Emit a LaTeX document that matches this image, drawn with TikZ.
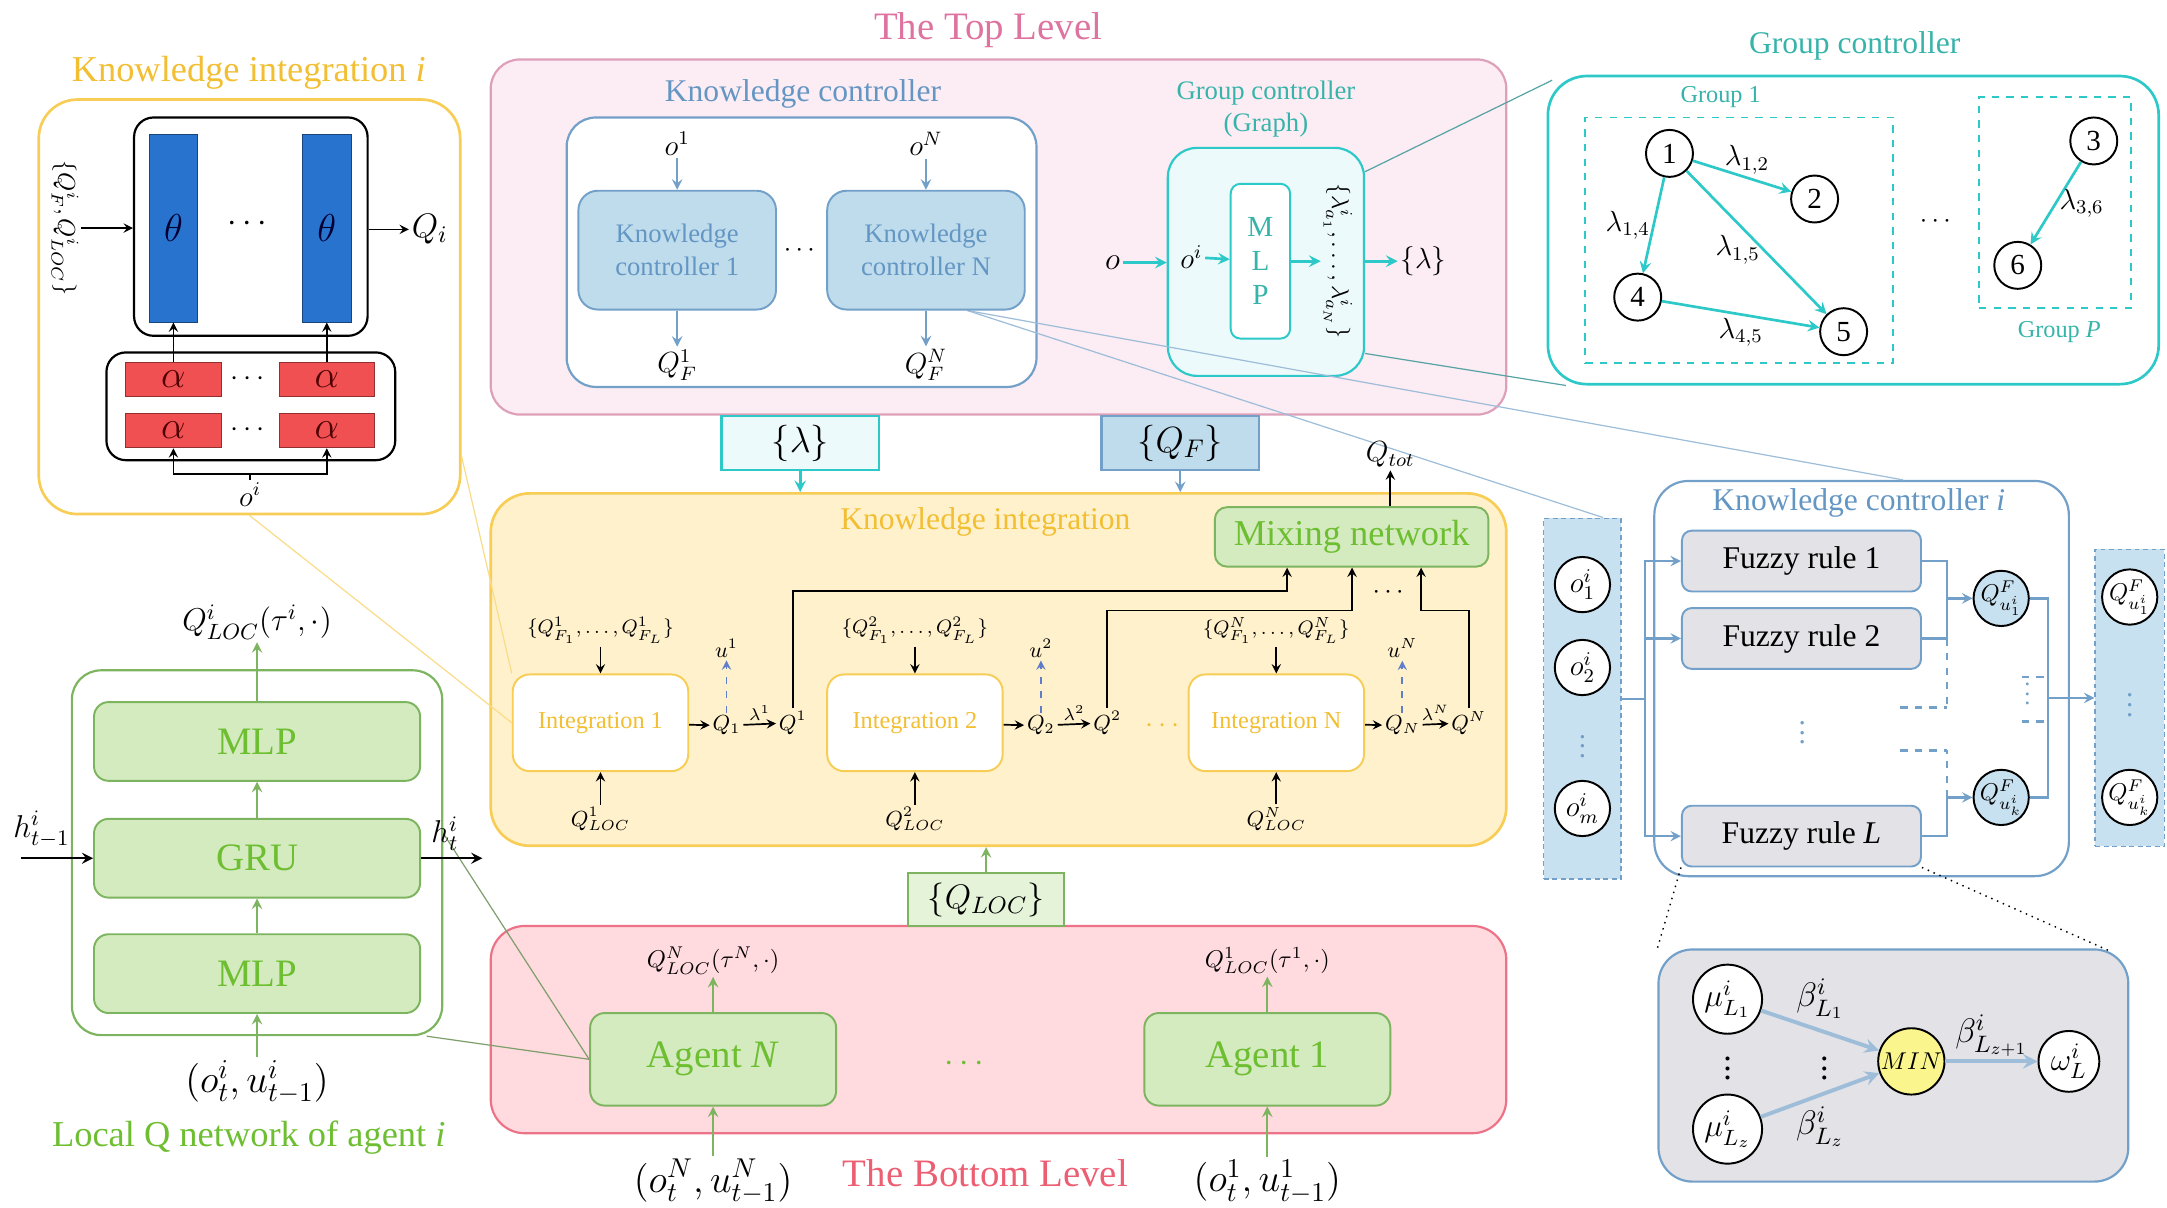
\RequirePackage{fix-cm}
\documentclass[tikz,border=0pt]{standalone}
\usepackage{fontspec}
\setmainfont{Liberation Serif}
\usepackage{amsmath, amssymb}
\usetikzlibrary{shapes, arrows, positioning, calc, fit}
\pgfdeclarelayer{back}
\pgfdeclarelayer{links}
\pgfsetlayers{back,links,main}
\definecolor{top-fill}{RGB}{252,236,243}
\definecolor{top-line}{RGB}{222,160,185}
\definecolor{top-text}{RGB}{222,115,160}
\definecolor{ki-fill}{RGB}{255,241,203}
\definecolor{ki-line}{RGB}{247,205,85}
\definecolor{ki-text}{RGB}{242,190,50}
\definecolor{bot-fill}{RGB}{255,218,223}
\definecolor{bot-line}{RGB}{236,115,135}
\definecolor{bot-text}{RGB}{236,95,115}
\definecolor{gr-fill}{RGB}{212,235,192}
\definecolor{gr-line}{RGB}{125,180,95}
\definecolor{gr-text}{RGB}{110,190,50}
\definecolor{kc-fill}{RGB}{190,220,236}
\definecolor{kc-line}{RGB}{115,160,200}
\definecolor{kc-text}{RGB}{100,150,195}
\definecolor{teal-line}{RGB}{45,200,200}
\definecolor{teal-text}{RGB}{55,180,170}
\definecolor{gc-fill}{RGB}{236,250,251}
\definecolor{theta-blue}{RGB}{40,115,205}
\definecolor{alpha-red}{RGB}{240,80,82}
\definecolor{fz-fill}{RGB}{226,226,231}
\definecolor{min-yellow}{RGB}{250,245,140}
\definecolor{col-fill}{RGB}{200,225,240}
\definecolor{u-blue}{RGB}{95,125,200}
\newcommand{\fsz}[1]{\fontsize{#1}{#1}\selectfont}

\begin{document}
\begin{tikzpicture}[
    x=0.02cm, y=-0.02cm,
    >=stealth,
    panel/.style={rectangle, rounded corners=10pt, line width=0.9pt, inner sep=0pt},
    kcblock/.style={rectangle, rounded corners=8pt, draw=kc-line, fill=kc-fill, text=kc-text, line width=0.8pt, align=center, font={\fontsize{11}{13.5}\selectfont}, minimum width=2.86cm, minimum height=1.72cm},
    greenblock/.style={rectangle, rounded corners=6pt, draw=gr-line, fill=gr-fill, text=gr-text, line width=0.8pt, font=\fsz{16}},
    intblock/.style={rectangle, rounded corners=7pt, draw=ki-line, fill=white, text=ki-text, line width=0.8pt, font=\fsz{10}, minimum width=2.54cm, minimum height=1.4cm},
    fuzzyblock/.style={rectangle, rounded corners=4pt, draw=kc-line, fill=fz-fill, line width=0.8pt, font=\fsz{13}, minimum width=3.46cm, minimum height=0.88cm},
    thetablock/.style={rectangle, draw=theta-blue!60!black, fill=theta-blue, text=black!80!blue, minimum width=0.7cm, minimum height=2.72cm, inner sep=0pt, font=\fsz{16}},
    alphablock/.style={rectangle, draw=alpha-red!60!black, fill=alpha-red, text=black!70!red, minimum width=1.38cm, minimum height=0.5cm, inner sep=0pt, font=\fsz{16}},
    gnode/.style={circle, draw, line width=0.8pt, fill=white, minimum size=0.68cm, inner sep=0pt, font=\fsz{12}},
    onode/.style={circle, draw, line width=0.8pt, fill=white, minimum size=0.8cm, inner sep=0pt, font=\fsz{12}},
    colbox/.style={rectangle, draw=kc-line, dash pattern=on 2pt off 1.5pt, fill=col-fill, line width=0.6pt, inner sep=0pt},
    arrow/.style={->, line width=0.7pt},
    tarrow/.style={->, line width=1.1pt, draw=teal-line},
    barrow/.style={->, line width=0.9pt, draw=kc-line},
    bline/.style={line width=0.9pt, draw=kc-line},
    garrow/.style={->, line width=0.9pt, draw=gr-line},
    uarrow/.style={->, dashed, line width=0.7pt, draw=u-blue},
    link/.style={line width=0.5pt, draw=#1},
    lbl/.style={font=\fsz{#1}, inner sep=1pt}
]
\useasboundingbox (0,0) rectangle (1568,874);

% containers
\begin{pgfonlayer}{back}
\node[panel, draw=top-line, fill=top-fill, rounded corners=12pt, minimum width=14.7cm, minimum height=5.14cm] (toplevel) at (722.5,171.5) {};
\node[panel, draw=ki-line, fill=ki-fill, rounded corners=16pt, line width=1.1pt, minimum width=14.7cm, minimum height=5.1cm] (kimid) at (722.5,484.5) {};
\node[panel, draw=bot-line, fill=bot-fill, rounded corners=14pt, minimum width=14.7cm, minimum height=3cm] (botlevel) at (722.5,745) {};
\node[panel, draw=ki-line, fill=white, rounded corners=16pt, line width=1.1pt, minimum width=6.1cm, minimum height=6cm] (kii) at (180.5,222) {};
\node[panel, draw=gr-line, fill=white, rounded corners=12pt, minimum width=5.36cm, minimum height=5.28cm] (localq) at (186,617) {};
\node[panel, draw=kc-line, fill=white, rounded corners=12pt, minimum width=6.8cm, minimum height=3.9cm] (kc) at (580,182.5) {};
\node[panel, draw=teal-line, fill=gc-fill, rounded corners=12pt, minimum width=2.84cm, minimum height=3.3cm] (gc) at (916,189.5) {};
\node[panel, draw=teal-line, fill=white, rounded corners=16pt, line width=1.1pt, minimum width=8.84cm, minimum height=4.46cm] (gcp) at (1341,166.5) {};
\node[panel, draw=kc-line, fill=white, rounded corners=14pt, minimum width=6cm, minimum height=5.72cm] (kci) at (1347,491) {};
\node[panel, draw=kc-line, fill=fz-fill, rounded corners=14pt, minimum width=6.8cm, minimum height=3.36cm] (fzd) at (1370,771) {};
\end{pgfonlayer}

% top level: knowledge controller
\node[lbl=16, text=top-text] (toptitle) at (715,22) {The Top Level};
\node[lbl=13, text=kc-text] (kctitle) at (581,68) {Knowledge controller};
\node[kcblock] (kc1) at (490,181) {Knowledge\\controller 1};
\node[kcblock] (kcN) at (670,181) {Knowledge\\controller N};
\node[lbl=11] (kcdots) at (580,181) {$\cdots$};
\node[lbl=12] (o1) at (490,104) {$o^1$};
\node[lbl=12] (oN) at (670,104) {$o^N$};
\node[lbl=12] (qf1) at (490,264) {$Q_F^1$};
\node[lbl=12] (qfN) at (670,264) {$Q_F^N$};
\draw[barrow] (o1) -- (kc1);
\draw[barrow] (oN) -- (kcN);
\draw[barrow] (kc1) -- (qf1);
\draw[barrow] (kcN) -- (qfN);

% top level: group controller (graph)
\node[text=teal-text, align=center, font={\fontsize{11}{13}\selectfont}] (gctitle) at (916,79) {Group controller\\(Graph)};
\node[rectangle, rounded corners=4pt, draw=teal-line, fill=white, line width=0.8pt, minimum width=0.86cm, minimum height=2.24cm, align=center, text=teal-text, font={\fontsize{12}{14}\selectfont}] (mlpg) at (912,189) {M\\L\\P};
\node[lbl=13] (og) at (805,190) {$o$};
\node[lbl=12] (oig) at (862,186) {$o^i$};
\node[lbl=10, rotate=-90] (lamset) at (968,189) {$\{\lambda^i_{a_1},\ldots,\lambda^i_{a_N}\}$};
\node[lbl=12] (lamout) at (1030,189) {$\{\lambda\}$};
\draw[tarrow] (og) -- (gc.west |- og);
\draw[tarrow] (oig) -- (mlpg);
\draw[tarrow] (mlpg) -- (lamset);
\draw[tarrow] (gc.east |- lamout) -- (lamout);

% group controller panel
\node[lbl=13, text=teal-text] (gcptitle) at (1342,33) {Group controller};
\node[rectangle, draw=teal-line, dashed, line width=0.8pt, minimum width=4.46cm, minimum height=3.56cm] (grp1) at (1258.5,174) {};
\node[lbl=10, text=teal-text] (grp1lbl) at (1245,70) {Group 1};
\node[rectangle, draw=teal-line, dashed, line width=0.8pt, minimum width=2.2cm, minimum height=3.06cm] (grpP) at (1487,146.5) {};
\node[lbl=10, text=teal-text] (grpPlbl) at (1490,240) {Group \textit{P}};
\node[gnode] (n1) at (1208,111) {1};
\node[gnode] (n2) at (1313,144) {2};
\node[gnode] (n3) at (1515,102) {3};
\node[gnode] (n4) at (1185,215) {4};
\node[gnode] (n5) at (1334,240) {5};
\node[gnode] (n6) at (1460,192) {6};
\node[lbl=11] (grpdots) at (1402,160) {$\cdots$};
\draw[tarrow] (n1) -- node[above, lbl=12, pos=0.55] {$\lambda_{1,2}$} (n2);
\draw[tarrow] (n1) -- node[left, lbl=12] {$\lambda_{1,4}$} (n4);
\draw[tarrow] (n1) -- node[left, lbl=12, pos=0.55] {$\lambda_{1,5}$} (n5);
\draw[tarrow] (n4) -- node[below, lbl=12] {$\lambda_{4,5}$} (n5);
\draw[tarrow] (n3) -- node[right, lbl=12] {$\lambda_{3,6}$} (n6);

% knowledge integration i
\node[lbl=15, text=ki-text] (kiititle) at (180,53) {Knowledge integration \textit{i}};
\node[rectangle, rounded corners=8pt, draw, line width=0.9pt, fill=white, minimum width=3.38cm, minimum height=3.16cm] (thetabox) at (181.5,164) {};
\node[thetablock] (th1) at (125.5,165) {$\theta$};
\node[thetablock] (th2) at (236.5,165) {$\theta$};
\node[lbl=14] (thdots) at (181,162) {$\cdots$};
\node[rectangle, rounded corners=8pt, draw, line width=0.9pt, fill=white, minimum width=4.18cm, minimum height=1.56cm] (alphabox) at (181.5,294) {};
\node[alphablock] (al11) at (125.5,274.5) {$\alpha$};
\node[alphablock] (al12) at (236.5,274.5) {$\alpha$};
\node[alphablock] (al21) at (125.5,311.5) {$\alpha$};
\node[alphablock] (al22) at (236.5,311.5) {$\alpha$};
\node[lbl=12] (aldots1) at (181,274.5) {$\cdots$};
\node[lbl=12] (aldots2) at (181,311.5) {$\cdots$};
\node[lbl=12] (oiki) at (181,358) {$o^i$};
\coordinate (oibus) at (181,343);
\draw[line width=0.7pt] (oiki) -- (oibus);
\draw[arrow] (oibus) -| (al21);
\draw[arrow] (oibus) -| (al22);
\draw[arrow] (al11) -- (th1);
\draw[arrow] (al12) -- (th2);
\node[lbl=10, rotate=-90] (qin) at (47,165) {$\{Q^i_F,Q^i_{LOC}\}$};
\draw[arrow] (qin) -- (thetabox.west |- qin);
\node[lbl=14] (qi) at (311,166) {$Q_i$};
\draw[arrow] (thetabox.east |- qi) -- (qi);

% local Q network
\node[greenblock, minimum width=4.72cm, minimum height=1.14cm] (mlptop) at (186,536.5) {MLP};
\node[greenblock, minimum width=4.72cm, minimum height=1.14cm] (gru) at (186,621) {GRU};
\node[greenblock, minimum width=4.72cm, minimum height=1.14cm] (mlpbot) at (186,704.5) {MLP};
\node[lbl=13] (qloci) at (186,450) {$Q^i_{LOC}(\tau^i,\cdot)$};
\node[lbl=16] (inpi) at (186,783) {$(o^i_t,u^i_{t-1})$};
\node[lbl=15, text=gr-text] (lqtitle) at (180,823) {Local Q network of agent \textit{i}};
\node[lbl=13] (hprev) at (30,600) {$h^i_{t-1}$};
\node[lbl=13] (hnext) at (322,603) {$h^i_t$};
\coordinate (hin) at (15,621);
\coordinate (hout) at (349,621);
\draw[arrow, line width=1pt] (hin) -- (gru);
\draw[arrow, line width=1pt] (gru) -- (hout);
\draw[garrow] (mlptop) -- (qloci);
\draw[garrow] (gru) -- (mlptop);
\draw[garrow] (mlpbot) -- (gru);
\draw[garrow] (inpi) -- (mlpbot);

% knowledge integration
\node[lbl=13, text=ki-text] (kimidtitle) at (713,378) {Knowledge integration};
\node[rectangle, draw=teal-line, fill=gc-fill, line width=0.9pt, minimum width=2.28cm, minimum height=0.78cm, lbl=15] (lambox) at (579,320.5) {$\{\lambda\}$};
\node[rectangle, draw=kc-line, fill=kc-fill, line width=0.9pt, minimum width=2.28cm, minimum height=0.78cm, lbl=15] (qfbox) at (854,320.5) {$\{Q_F\}$};
\draw[tarrow] (lambox) -- (lambox |- kimid.north);
\draw[barrow] (qfbox) -- (qfbox |- kimid.north);
\node[greenblock, rounded corners=5pt, font=\fsz{15}, minimum width=3.96cm, minimum height=0.86cm] (mix) at (978,388.5) {Mixing network};
\node[lbl=12] (qtot) at (1006,329) {$Q_{tot}$};
\draw[arrow] (mix.north -| qtot) -- (qtot);

\node[intblock] (int1) at (434.5,523) {Integration 1};
\node[intblock] (int2) at (662,523) {Integration 2};
\node[intblock] (intN) at (923.5,523) {Integration N};
\foreach \k/\s in {int1/1, int2/2, intN/N} {
  \node[lbl=8] (qfs\s) at ($(\k.north)+(0,-31)$) {$\{Q^{\s}_{F_1},\ldots,Q^{\s}_{F_L}\}$};
  \node[lbl=9] (ql\s) at ($(\k.south)+(0,34)$) {$Q^{\s}_{LOC}$};
  \draw[arrow] (qfs\s) -- (\k);
  \draw[arrow] (ql\s) -- (\k);
  \node[lbl=9] (qs\s) at ($(\k.east)+(27,2)$) {$Q_{\s}$};
  \node[lbl=9] (qsup\s) at ($(\k.east)+(75,0)$) {$Q^{\s}$};
  \node[lbl=9] (u\s) at ($(\k.east)+(27,-54)$) {$u^{\s}$};
  \draw[arrow] (\k) -- (qs\s);
  \draw[arrow] (qs\s) -- node[above, lbl=7] {$\lambda^{\s}$} (qsup\s);
  \draw[uarrow] (qs\s) -- (u\s);
}
\coordinate (mixa) at ($(mix.south west)+(53,0)$);
\coordinate (mixb) at ($(mix.south west)+(100,0)$);
\coordinate (mixc) at ($(mix.south west)+(150,0)$);
\draw[arrow] (qsup1.north) |- ($(mixa)+(0,17)$) -- (mixa);
\draw[arrow] (qsup2.north) |- ($(mixb)+(0,31)$) -- (mixb);
\draw[arrow] (qsupN.north) |- ($(mixc)+(0,31)$) -- (mixc);
\node[lbl=11] (mixdots) at (1006,429) {$\cdots$};
\node[lbl=12, text=ki-text] (intdots) at (843,525) {$\cdots$};

% bottom level
\node[rectangle, draw=gr-line, fill=gr-fill!60, line width=0.8pt, minimum width=2.26cm, minimum height=0.76cm, lbl=14] (qlocbox) at (713.5,651) {$\{Q_{LOC}\}$};
\draw[garrow] (qlocbox) -- (qlocbox |- kimid.south);
\node[lbl=16, text=bot-text] (bottitle) at (713,849) {The Bottom Level};
\node[greenblock, minimum width=3.56cm, minimum height=1.34cm] (agN) at (516,766.5) {Agent \textit{N}};
\node[greenblock, minimum width=3.56cm, minimum height=1.34cm] (ag1) at (917,766.5) {Agent 1};
\node[lbl=14, text=gr-text] (agdots) at (700,770) {$\cdots$};
\node[lbl=10] (qlocN) at (516,695) {$Q^N_{LOC}(\tau^N,\cdot)$};
\node[lbl=10] (qloc1) at (917,695) {$Q^1_{LOC}(\tau^1,\cdot)$};
\node[lbl=16] (inN) at (516,855) {$(o^N_t,u^N_{t-1})$};
\node[lbl=16] (in1) at (917,855) {$(o^1_t,u^1_{t-1})$};
\draw[garrow] (agN) -- (qlocN);
\draw[garrow] (ag1) -- (qloc1);
\draw[garrow] (inN) -- (agN);
\draw[garrow] (in1) -- (ag1);

% knowledge controller i
\node[colbox, minimum width=1.12cm, minimum height=5.22cm] (ocol) at (1145,505.5) {};
\node[onode] (oc1) at (1145,423) {$o^i_1$};
\node[onode] (oc2) at (1145,483) {$o^i_2$};
\node[lbl=12, text=kc-line] (ocdots) at (1145,535) {$\vdots$};
\node[onode] (ocm) at (1145,585) {$o^i_m$};
\node[lbl=13, text=kc-text] (kcititle) at (1345,364) {Knowledge controller \textit{i}};
\node[fuzzyblock] (r1) at (1303.5,406) {Fuzzy rule 1};
\node[fuzzyblock] (r2) at (1303.5,462) {Fuzzy rule 2};
\node[fuzzyblock] (rL) at (1303.5,605) {Fuzzy rule \textit{L}};
\node[lbl=12, text=kc-line] (rdots) at (1304,525) {$\vdots$};
\coordinate (busL) at (1190,505.5);
\draw[bline] (ocol) -- (busL);
\draw[barrow] (busL) |- (r1);
\draw[barrow] (busL) |- (r2);
\draw[barrow] (busL) |- (rL);
\node[onode, fill=col-fill, font=\fsz{10}] (qfu1) at (1448,433) {$Q^F_{u^i_1}$};
\node[onode, fill=col-fill, font=\fsz{10}] (qfuk) at (1448,577) {$Q^F_{u^i_k}$};
\coordinate (busR1) at (1409,433);
\coordinate (busR2) at (1409,577);
\draw[bline] (r1) -| (busR1);
\draw[bline] (r2) -| (busR1);
\draw[barrow] (busR1) -- (qfu1);
\draw[bline] (rL) -| (busR2);
\draw[barrow] (busR2) -- (qfuk);
\draw[bline, dashed] (r2.east -| busR1) -- ++(0,52);
\draw[bline, dashed] (busR2) -- ++(0,-34);
\draw[bline, dashed] ($(busR1)+(-34,79)$) -- ++(34,0);
\draw[bline, dashed] ($(busR2)+(-34,-34)$) -- ++(34,0);
\coordinate (busO) at (1482,505);
\draw[bline] (qfu1) -| (busO);
\draw[bline] (qfuk) -| (busO);
\node[colbox, minimum width=1cm, minimum height=4.3cm] (outcol) at (1541,505) {};
\draw[barrow] (busO) -- (outcol);
\draw[bline, dashed] ($(busO)+(-19,-15)$) -- ++(19,0);
\draw[bline, dashed] ($(busO)+(-19,17)$) -- ++(19,0);
\node[lbl=10, text=kc-line] (qfdots) at (1467,497) {$\vdots$};
\node[onode, font=\fsz{10}] (qfo1) at (1541,432) {$Q^F_{u^i_1}$};
\node[onode, font=\fsz{10}] (qfok) at (1541,577) {$Q^F_{u^i_k}$};
\node[lbl=12, text=kc-line] (outdots) at (1541,505) {$\vdots$};

% fuzzy rule detail
\node[circle, draw, fill=white, line width=0.8pt, minimum size=1cm, inner sep=0pt, font=\fsz{13}] (mu1) at (1250,723) {$\mu^i_{L_1}$};
\node[circle, draw, fill=white, line width=0.8pt, minimum size=1cm, inner sep=0pt, font=\fsz{13}] (muz) at (1250,817) {$\mu^i_{L_z}$};
\node[circle, draw, fill=min-yellow, line width=0.8pt, minimum size=0.96cm, inner sep=0pt, font=\fsz{10}] (minn) at (1383,768) {$MIN$};
\node[circle, draw, fill=white, line width=0.8pt, minimum size=0.88cm, inner sep=0pt, font=\fsz{13}] (omg) at (1497,768) {$\omega^i_L$};
\draw[barrow, line width=1.6pt, draw=kc-line!70] (mu1) -- node[above=3pt, lbl=14] {$\beta^i_{L_1}$} (minn);
\draw[barrow, line width=1.6pt, draw=kc-line!70] (muz) -- node[below=3pt, lbl=14] {$\beta^i_{L_z}$} (minn);
\draw[barrow, line width=1.6pt, draw=kc-line!70] (minn) -- node[above, lbl=14] {$\beta^i_{L_{z+1}}$} (omg);
\node[lbl=14] (mudots) at (1250,768) {$\vdots$};
\node[lbl=14] (betadots) at (1320,768) {$\vdots$};
\draw[dotted, line width=0.6pt] (rL.south west) -- (fzd.north west);
\draw[dotted, line width=0.6pt] (rL.south east) -- ($(fzd.north east)+(-14,2)$);

% zoom-in links
\begin{pgfonlayer}{links}
\draw[link=ki-line!70] ($(kii.east)+(0,108)$) -- (int1.north west);
\draw[link=ki-line!70] (kii.south) -- (int1.west);
\draw[link=gr-line!60!gray] ($(localq.east)+(0,-14)$) -- (agN.west);
\draw[link=gr-line!60!gray] ($(localq.south east)+(-12,0)$) -- (agN.west);
\draw[link=teal-line!50!gray] ($(gc.north east)+(0,18)$) -- ($(gcp.north west)+(4,4)$);
\draw[link=teal-line!50!gray] ($(gc.south east)+(0,-17)$) -- ($(gcp.south west)+(14,0)$);
\draw[link=kc-line!70] ($(kcN.south)+(30,0)$) -- ($(kci.north)+(30,0)$);
\draw[link=kc-line!70] ($(kcN.south)+(30,0)$) -- ($(ocol.north)+(15,0)$);
\end{pgfonlayer}

\end{tikzpicture}
\end{document}
